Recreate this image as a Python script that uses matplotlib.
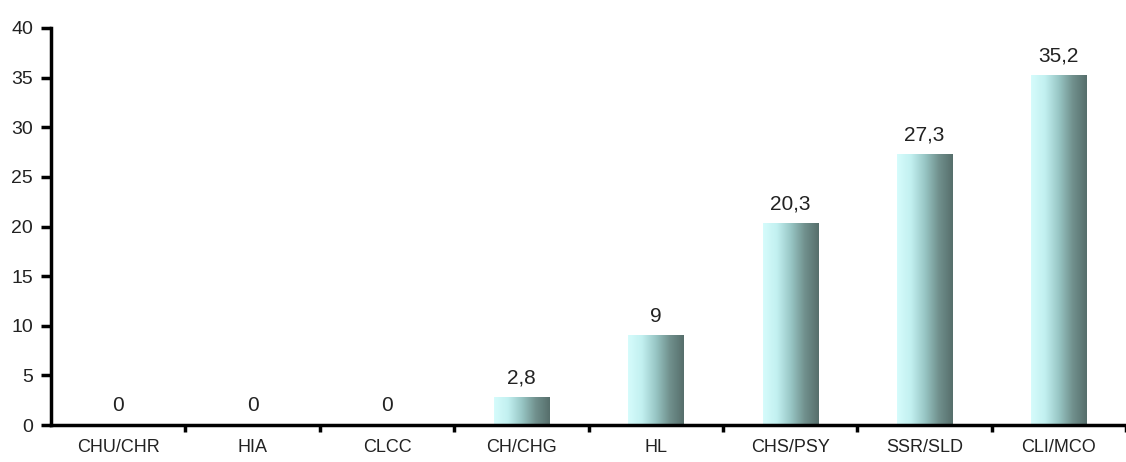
import numpy as np
import matplotlib
matplotlib.use("Agg")
import matplotlib.pyplot as plt
from matplotlib.colors import LinearSegmentedColormap

categories = ["CHU/CHR", "HIA", "CLCC", "CH/CHG", "HL", "CHS/PSY", "SSR/SLD", "CLI/MCO"]
values = [0, 0, 0, 2.8, 9, 20.3, 27.3, 35.2]
value_labels = ["0", "0", "0", "2,8", "9", "20,3", "27,3", "35,2"]
yticks = [0, 5, 10, 15, 20, 25, 30, 35, 40]

plt.rcParams["font.family"] = ["Liberation Sans", "DejaVu Sans"]

fig = plt.figure(figsize=(11.26, 4.62), dpi=100)
ax = fig.add_axes([51 / 1126, 37 / 462, 1075 / 1126, 397 / 462])

bar_w = 0.41
cmap = LinearSegmentedColormap.from_list(
    "cyl", ["#d6fcfc", "#c2f0f0", "#98c6c5", "#70908d", "#566e6b"])
grad = np.linspace(0, 1, 256).reshape(1, -1)

for i, (v, lab) in enumerate(zip(values, value_labels)):
    if v > 0:
        ax.imshow(grad, cmap=cmap, aspect="auto", interpolation="bicubic",
                  extent=(i - bar_w / 2, i + bar_w / 2, 0, v), zorder=2)
    ax.text(i, v + 1.0, lab, ha="center", va="bottom", fontsize=15,
            color="#222222")

ax.set_xlim(-0.5, 7.4)
ax.set_ylim(0, 40)

ax.set_yticks(yticks)
ax.set_yticklabels([str(t) for t in yticks], fontsize=14, color="#222222")
ax.set_xticks(np.arange(len(categories)))
ax.set_xticklabels(categories, fontsize=13, color="#222222")
ax.tick_params(axis="x", length=0, pad=10)
ax.set_xticks(np.arange(len(categories)) + 0.5, minor=True)
ax.tick_params(axis="x", which="minor", length=5, width=2.5, direction="out")
ax.tick_params(axis="y", length=7, width=2.5, direction="out", pad=6)

for side in ["top", "right"]:
    ax.spines[side].set_visible(False)
for side in ["left", "bottom"]:
    ax.spines[side].set_linewidth(2.5)
    ax.spines[side].set_zorder(3)

fig.savefig("out.png", dpi=100, facecolor="white")
